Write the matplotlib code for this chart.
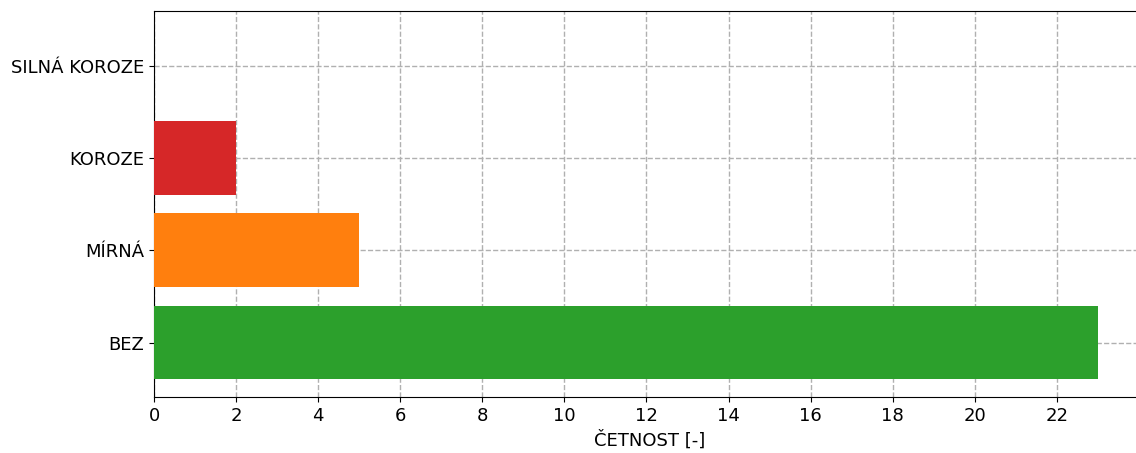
import matplotlib
matplotlib.use("Agg")
import matplotlib.pyplot as plt

categories = ["BEZ", "MÍRNÁ", "KOROZE", "SILNÁ KOROZE"]
counts = [23, 5, 2, 0]
colors = ["tab:green", "tab:orange", "tab:red", "tab:purple"]
xticks = list(range(0, 24, 2))

fig = plt.figure(figsize=(11.36, 4.53), dpi=100)
ax = fig.add_axes([0.1356, 0.1236, 0.8724, 0.852])

ax.barh(categories, counts, color=colors, height=0.8, zorder=3)

ax.set_xticks(xticks)
ax.set_xlabel("ČETNOST [-]", fontsize=13)
ax.tick_params(labelsize=13)
ax.grid(True, linestyle="--", color="#b0b0b0", linewidth=1)
# titulek je v originale useknuty hornim okrajem
ax.set_title("4. DC - MÍRA KOROZE", fontsize=18, fontweight="bold", loc="left", pad=8)

fig.savefig("out.png", dpi=100)
